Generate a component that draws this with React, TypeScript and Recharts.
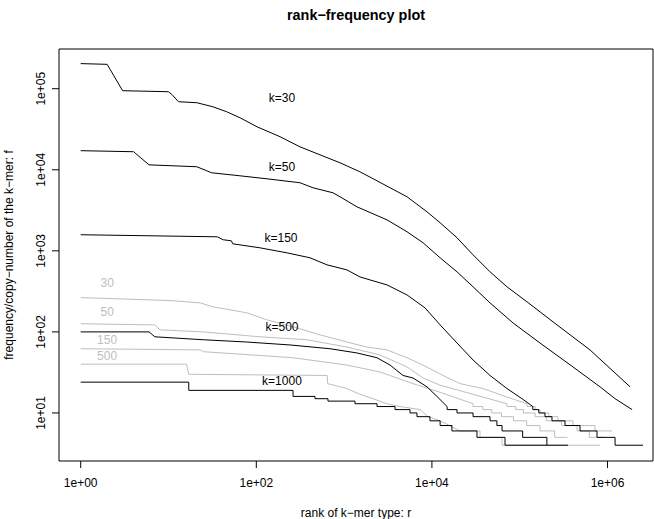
import React from 'react';
import { LineChart, Line, XAxis, YAxis, ReferenceArea, ReferenceDot } from 'recharts';

// rank (r) and frequency (f) pairs
const k30: [number, number][] = [[1,204000],[2,200000],[3,94500],[10,91800],[11,84300],[13,69100],[21,67200],[32,59900],[46,52000],[65,43900],[102,33900],[186,25600],[314,19200],[531,15300],[897,12200],[1514,9450],[2250,7530],[3335,6000],[5200,4650],[8790,3030],[12400,2220],[19300,1450],[29400,893],[45900,551],[71600,360],[121000,235],[266000,122],[631000,60],[1807000,21]];
const k50: [number, number][] = [[1,17200],[4,16700],[6,11500],[21,10900],[31,9180],[65,8430],[132,7740],[314,6920],[442,6000],[747,5200],[897,4650],[1400,3490],[3080,2410],[5200,1720],[7910,1260],[12400,821],[19300,551],[29400,360],[45900,228],[83900,129],[170000,73],[404000,37],[822000,21],[1219000,15],[1905000,11]];
const k150: [number, number][] = [[1,1580],[36,1490],[42,1370],[52,1330],[54,1220],[110,1090],[224,944],[409,821],[638,672],[1077,582],[1514,477],[1970,438],[3080,380],[5200,286],[8340,198],[12400,122],[19300,73],[29400,45],[45900,29],[71600,20],[106000,15],[141000,12],[141000,11],[165000,11],[165000,10],[194000,10],[194000,9],[233000,9],[233000,8],[328000,8],[328000,7],[486000,7],[486000,6],[759000,6],[759000,5],[1219000,5],[1219000,4],[2541000,4]];
const k500: [number, number][] = [[1,100],[6,100],[7,87],[25,80],[78,75],[242,69],[690,62],[1400,55],[2370,48],[3335,39],[4690,29],[6090,27],[8790,21],[11400,16],[14900,12],[14900,11],[19300,11],[19300,10],[29400,10],[29400,9],[45900,9],[45900,8],[55000,8],[55000,7],[62900,7],[62900,6],[108000,6],[108000,5],[204000,5],[204000,4],[355000,4]];
const k1000: [number, number][] = [[1,24],[17,24],[17,19],[262,19],[262,16],[466,16],[466,15],[655,15],[655,14],[1330,14],[1330,13],[2370,13],[2370,12],[3800,12],[3800,11],[5630,11],[5630,10],[6760,10],[6760,9],[9500,9],[9500,8],[12400,8],[12400,7],[16900,7],[16900,6],[32600,6],[32600,5],[68000,5],[68000,4],[204000,4]];

const g30: [number, number][] = [[1,265],[11,243],[23,228],[32,204],[78,172],[132,141],[291,112],[531,92],[1077,75],[1820,65],[3080,60],[5200,48],[7910,39],[13400,29],[20900,23],[38200,20],[68000,16],[121000,13],[121000,12],[150000,12],[150000,11],[170000,11],[170000,10],[215000,10],[215000,9],[273000,9],[273000,8],[404000,8],[404000,7],[720000,7],[720000,6],[1127000,6]];
const g50: [number, number][] = [[1,126],[7,122],[8,106],[25,100],[110,87],[378,80],[1077,65],[2565,52],[5200,37],[7910,27],[12400,22],[29400,17],[71600,13],[71600,12],[90000,12],[90000,11],[110000,11],[110000,10],[150000,10],[150000,9],[200000,9],[200000,8],[300000,8],[300000,7],[450000,7],[450000,6],[620000,6],[620000,5],[900000,5]];
const g150: [number, number][] = [[1,62],[23,60],[25,57],[262,48],[1077,39],[2565,32],[6090,23],[12400,18],[29400,13],[29400,12],[38000,12],[38000,11],[48000,11],[48000,10],[62000,10],[62000,9],[85000,9],[85000,8],[120000,8],[120000,7],[170000,7],[170000,6],[250000,6],[250000,5],[350000,5]];
const g500: [number, number][] = [[1,40],[16,40],[17,30],[640,29],[650,23],[1077,20],[1514,17],[2130,15],[3080,13],[4330,12],[7310,11],[9000,9],[12400,8],[20900,6],[35300,6],[35300,5],[62900,5],[62900,4],[822000,4]];

const blackLabels = [
  { r: 196, f: 78000, text: 'k=30' },
  { r: 196, f: 10900, text: 'k=50' },
  { r: 191, f: 1460, text: 'k=150' },
  { r: 196, f: 116, text: 'k=500' },
  { r: 196, f: 24.8, text: 'k=1000' },
];
const grayLabels = [
  { r: 2, f: 400, text: '30' },
  { r: 2, f: 178, text: '50' },
  { r: 2, f: 80, text: '150' },
  { r: 2, f: 50.6, text: '500' },
];

const xTicks = [1, 100, 10000, 1000000];
const xTickLabels = ['1e+00', '1e+02', '1e+04', '1e+06'];
const yTicks = [10, 100, 1000, 10000, 100000];
const yTickLabels = ['1e+01', '1e+02', '1e+03', '1e+04', '1e+05'];

const XMIN = 0.566;
const XMAX = 3296000;
const YMIN = 2.555;
const YMAX = 309000;

const title = 'rank\u2212frequency plot';
const xTitle = 'rank of k\u2212mer type: r';
const yTitle = 'frequency/copy\u2212number of the k\u2212mer: f';

const GRAY = '#bebebe';

const toPts = (a: [number, number][]) => a.map(([r, f]) => ({ r, f }));

const XTick = (props: any) => {
  const { x, y, payload } = props;
  const i = xTicks.indexOf(payload.value);
  return (
    <text x={x} y={y} textAnchor="middle" fontSize={12} fill="#000">
      {i >= 0 ? xTickLabels[i] : ''}
    </text>
  );
};

const YTick = (props: any) => {
  const { x, y, payload } = props;
  const i = yTicks.indexOf(payload.value);
  return (
    <text x={x} y={y} transform={`rotate(-90 ${x} ${y})`} textAnchor="middle" fontSize={12} fill="#000">
      {i >= 0 ? yTickLabels[i] : ''}
    </text>
  );
};

const XLabel = (props: any) => {
  const vb = props.viewBox;
  const cx = vb.x + vb.width / 2;
  return (
    <text x={cx} y={vb.y + 56} textAnchor="middle" fontSize={12} fill="#000">{xTitle}</text>
  );
};

const YLabel = (props: any) => {
  const vb = props.viewBox;
  const cy = vb.y + vb.height / 2;
  const x = vb.x + 13;
  return (
    <text x={x} y={cy} transform={`rotate(-90 ${x} ${cy})`} textAnchor="middle" fontSize={12} fill="#000">{yTitle}</text>
  );
};

const grays = [g30, g50, g150, g500];
const blacks = [k30, k50, k150, k500, k1000];

export default function App() {
  return (
    <div style={{ position: 'absolute', left: 0, top: 0, width: 654, height: 519, background: '#fff', fontFamily: '"Liberation Sans", Arial, Helvetica, sans-serif' }}>
      <div style={{ position: 'absolute', left: 59, top: 6, width: 594, textAlign: 'center', fontWeight: 'bold', fontSize: 14.4, lineHeight: '18px', color: '#000' }}>
        {title}
      </div>
      <LineChart width={654} height={519} margin={{ top: 49, right: 1, bottom: 0, left: 0 }}>
        <XAxis
          type="number"
          dataKey="r"
          scale="log"
          domain={[XMIN, XMAX]}
          ticks={xTicks}
          allowDataOverflow
          height={58}
          axisLine={false}
          tickLine={{ stroke: '#000' }}
          tickSize={7}
          tickMargin={19}
          tick={<XTick />}
          interval={0}
          label={<XLabel />}
        />
        <YAxis
          type="number"
          dataKey="f"
          scale="log"
          domain={[YMIN, YMAX]}
          ticks={yTicks}
          allowDataOverflow
          width={59}
          axisLine={false}
          tickLine={{ stroke: '#000' }}
          tickSize={7}
          tickMargin={7}
          tick={<YTick />}
          interval={0}
          label={<YLabel />}
        />
        <ReferenceArea x1={XMIN} x2={XMAX} y1={YMIN} y2={YMAX} fill="none" stroke="#000" strokeWidth={1} fillOpacity={0} ifOverflow="visible" />
        {grays.map((g, i) => (
          <Line key={'g' + i} data={toPts(g)} dataKey="f" type="linear" dot={false} stroke={GRAY} strokeWidth={1} isAnimationActive={false} />
        ))}
        {blacks.map((b, i) => (
          <Line key={'b' + i} data={toPts(b)} dataKey="f" type="linear" dot={false} stroke="#000" strokeWidth={1} isAnimationActive={false} />
        ))}
        {blackLabels.map((l, i) => (
          <ReferenceDot key={'bl' + i} x={l.r} y={l.f} r={0} fill="none" stroke="none" label={{ value: l.text, position: 'center', fill: '#000', fontSize: 12 }} />
        ))}
        {grayLabels.map((l, i) => (
          <ReferenceDot key={'gl' + i} x={l.r} y={l.f} r={0} fill="none" stroke="none" label={{ value: l.text, position: 'center', fill: GRAY, fontSize: 12 }} />
        ))}
      </LineChart>
    </div>
  );
}
